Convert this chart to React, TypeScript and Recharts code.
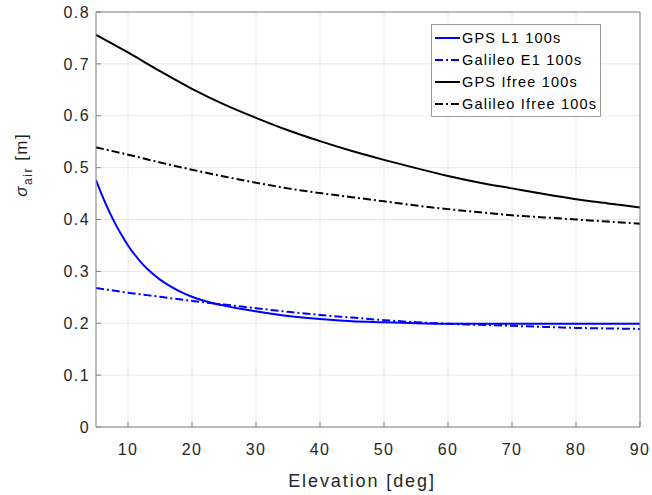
import React from 'react';
import { LineChart, Line, XAxis, YAxis, CartesianGrid, Legend } from 'recharts';

// ---- data ----
const elevationL1 = [5, 6, 7, 8, 9, 10, 11, 12, 13, 14, 15, 16, 18, 20, 22, 25, 28, 30, 35, 40, 45, 50, 55, 60, 70, 80, 90];
const gpsL1 = [0.476, 0.445, 0.417, 0.392, 0.37, 0.35, 0.333, 0.318, 0.305, 0.294, 0.284, 0.276, 0.262, 0.251, 0.243, 0.234, 0.227, 0.223, 0.214, 0.208, 0.204, 0.202, 0.2, 0.199, 0.199, 0.199, 0.199];
const elevation = [5, 10, 15, 20, 25, 30, 35, 40, 45, 50, 55, 60, 65, 70, 75, 80, 85, 90];
const galileoE1 = [0.268, 0.259, 0.251, 0.243, 0.236, 0.229, 0.222, 0.216, 0.211, 0.206, 0.202, 0.199, 0.197, 0.195, 0.193, 0.191, 0.19, 0.189];
const gpsIfree = [0.756, 0.722, 0.686, 0.652, 0.622, 0.596, 0.572, 0.551, 0.532, 0.515, 0.499, 0.484, 0.471, 0.46, 0.449, 0.439, 0.431, 0.423];
const galileoIfree = [0.539, 0.525, 0.51, 0.496, 0.483, 0.471, 0.46, 0.451, 0.443, 0.435, 0.427, 0.42, 0.414, 0.408, 0.404, 0.4, 0.396, 0.392];
const xTicks = [10, 20, 30, 40, 50, 60, 70, 80, 90];
const yTicks = [0, 0.1, 0.2, 0.3, 0.4, 0.5, 0.6, 0.7, 0.8];
const seriesNames = ['GPS L1 100s', 'Galileo E1 100s', 'GPS Ifree 100s', 'Galileo Ifree 100s'];
const xLabel = 'Elevation [deg]';

const toPoints = (xs: number[], ys: number[]) => xs.map((x, i) => ({ x, y: ys[i] }));

const FONT = '"Liberation Sans", Arial, Helvetica, sans-serif';
const TEXT = '#262626';
const AXIS = '#858585';
const DASHDOT = '8 3 2 3';

const XTick = (props: any) => {
  const { x, y, payload } = props;
  return (
    <text x={x} y={y} dy="0.71em" textAnchor="middle" fill={TEXT} fontSize={16} letterSpacing={1.4} fontFamily={FONT}>
      {String(payload.value)}
    </text>
  );
};

const YTick = (props: any) => {
  const { x, y, payload } = props;
  return (
    <text x={x} y={y} dy="0.355em" textAnchor="end" fill={TEXT} fontSize={16} letterSpacing={1.4} fontFamily={FONT}>
      {String(payload.value)}
    </text>
  );
};

const XLabel = (props: any) => {
  const vb = props.viewBox || {};
  const cx = vb.x + vb.width / 2 - 6;
  const cy = vb.y + 60;
  return (
    <text x={cx} y={cy} textAnchor="middle" fill={TEXT} fontSize={18} letterSpacing={1.9} fontFamily={FONT}>
      {xLabel}
    </text>
  );
};

const YLabel = (props: any) => {
  const vb = props.viewBox || {};
  const cx = vb.x + 27;
  const cy = vb.y + vb.height * 0.368;
  return (
    <text
      x={cx}
      y={cy}
      transform={`rotate(-90 ${cx} ${cy})`}
      textAnchor="middle"
      fill={TEXT}
      fontSize={17}
      letterSpacing={1.5}
      fontFamily={FONT}
    >
      <tspan fontStyle="italic">σ</tspan>
      <tspan fontSize={12} dy={5}>air</tspan>
      <tspan dy={-5}> [m]</tspan>
    </text>
  );
};

const LegendBox = (props: any) => {
  const payload = [...(props.payload || [])].sort(
    (a: any, b: any) => seriesNames.indexOf(a.value) - seriesNames.indexOf(b.value)
  );
  return (
    <div
      style={{
        display: 'inline-block',
        border: '1px solid #9a9a9a',
        background: '#fff',
        padding: '2px 3px 1px 3px',
        fontFamily: FONT,
        fontSize: 14.5,
        letterSpacing: 1.2,
        color: '#000',
        lineHeight: 1,
      }}
    >
      {payload.map((p: any) => (
        <div key={p.value} style={{ display: 'flex', alignItems: 'center', height: 22, whiteSpace: 'nowrap' }}>
          <svg width={25} height={4} style={{ display: 'block' }}>
            <line x1={0} y1={2} x2={25} y2={2} stroke={p.color} strokeWidth={2} strokeDasharray={p.payload && p.payload.strokeDasharray} />
          </svg>
          <span style={{ marginLeft: 2 }}>{p.value}</span>
        </div>
      ))}
    </div>
  );
};

export default function App() {
  return (
    <div style={{ position: 'absolute', left: 0, top: 0, width: 652, height: 495, background: '#fff' }}>
      <LineChart width={652} height={495} margin={{ top: 11, right: 11, bottom: 0, left: 0 }} style={{ fontFamily: FONT }}>
        <CartesianGrid stroke="#e6e6e6" strokeWidth={1} />
        <XAxis
          dataKey="x"
          type="number"
          domain={[5, 90]}
          allowDataOverflow
          ticks={xTicks}
          height={68}
          tickSize={-5}
          tickMargin={22}
          stroke={AXIS}
          tick={XTick}
          label={XLabel}
        />
        <XAxis
          xAxisId="top"
          orientation="top"
          dataKey="x"
          type="number"
          domain={[5, 90]}
          allowDataOverflow
          ticks={xTicks}
          height={1}
          tickSize={-5}
          stroke={AXIS}
          tick={false}
        />
        <YAxis
          type="number"
          domain={[0, 0.8]}
          allowDataOverflow
          ticks={yTicks}
          width={96}
          tickSize={-5}
          tickMargin={11}
          stroke={AXIS}
          tick={YTick}
          label={YLabel}
        />
        <YAxis
          yAxisId="right"
          orientation="right"
          type="number"
          domain={[0, 0.8]}
          allowDataOverflow
          ticks={yTicks}
          width={1}
          tickSize={-5}
          stroke={AXIS}
          tick={false}
        />
        <Legend
          layout="horizontal"
          verticalAlign="middle"
          align="center"
          width={180}
          itemSorter={(item: any) => seriesNames.indexOf(item.value)}
          content={LegendBox}
          wrapperStyle={{ top: 24, left: 431, width: 180 }}
        />
        <Line data={toPoints(elevationL1, gpsL1)} dataKey="y" name={seriesNames[0]} type="monotone" stroke="#0000ff" strokeWidth={2} dot={false} activeDot={false} isAnimationActive={false} />
        <Line data={toPoints(elevation, galileoE1)} dataKey="y" name={seriesNames[1]} type="monotone" stroke="#0000ff" strokeWidth={2} strokeDasharray={DASHDOT} dot={false} activeDot={false} isAnimationActive={false} />
        <Line data={toPoints(elevation, gpsIfree)} dataKey="y" name={seriesNames[2]} type="monotone" stroke="#000000" strokeWidth={2} dot={false} activeDot={false} isAnimationActive={false} />
        <Line data={toPoints(elevation, galileoIfree)} dataKey="y" name={seriesNames[3]} type="monotone" stroke="#000000" strokeWidth={2} strokeDasharray={DASHDOT} dot={false} activeDot={false} isAnimationActive={false} />
      </LineChart>
    </div>
  );
}
